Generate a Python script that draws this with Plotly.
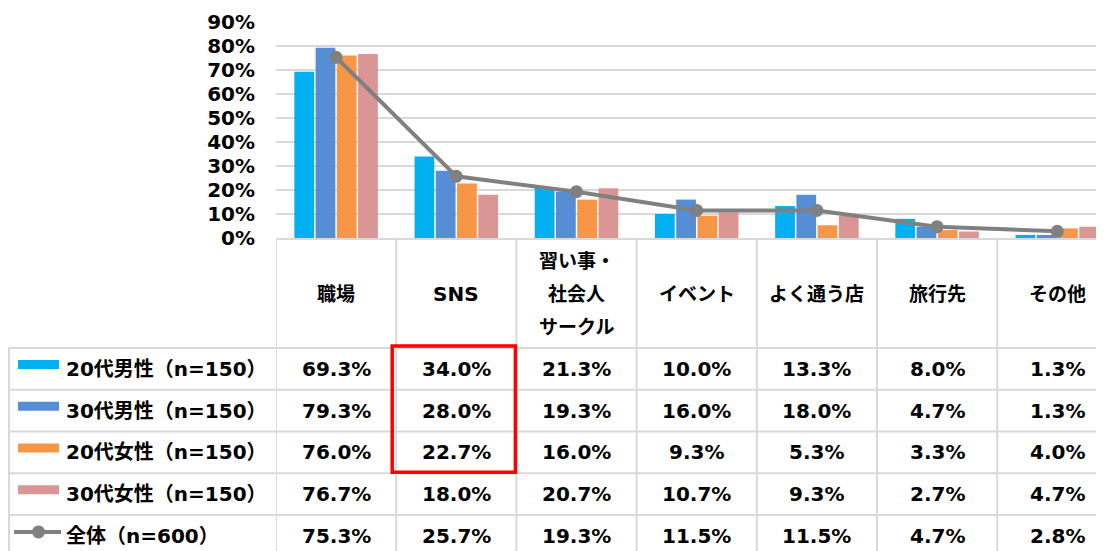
import plotly.graph_objects as go

# ---------------- data ----------------
categories = ["職場", "SNS", "習い事・<br>社会人<br>サークル", "イベント", "よく通う店", "旅行先", "その他"]
bar_series = ["20代男性（n=150）", "30代男性（n=150）", "20代女性（n=150）", "30代女性（n=150）"]
male20 = [69.3, 34.0, 21.3, 10.0, 13.3, 8.0, 1.3]
male30 = [79.3, 28.0, 19.3, 16.0, 18.0, 4.7, 1.3]
female20 = [76.0, 22.7, 16.0, 9.3, 5.3, 3.3, 4.0]
female30 = [76.7, 18.0, 20.7, 10.7, 9.3, 2.7, 4.7]
total_name = "全体（n=600）"
total = [75.3, 25.7, 19.3, 11.5, 11.5, 4.7, 2.8]
tick_vals = [0, 10, 20, 30, 40, 50, 60, 70, 80, 90]
tick_text = ["0%", "10%", "20%", "30%", "40%", "50%", "60%", "70%", "80%", "90%"]

bar_values = [male20, male30, female20, female30]
bar_colors = ["#00b0f0", "#558ed5", "#f79646", "#d99694"]
line_color = "#808080"
grid_color = "#d9d9d9"

# ---------------- layout constants (screen pixels of the reference) ----------------
W, H = 1104, 551
OFF = 8                      # page body margin: paper px = screen px - OFF


def px(sx):                  # screen x -> paper fraction
    return (sx - OFF) / W


def py(sy):                  # screen y -> paper fraction
    return 1 - (sy - OFF) / H


plot_left = 276
col_w = 120.2
y0px, y90px = 238, 22
header_bottom = 348
row_h = 41.75
FONT = "DejaVu Sans, Noto Sans CJK JP, sans-serif"
FS = 20
FS_HEAD_CJK = 19

x_range = [-0.5, -0.5 + (W + OFF - plot_left) / col_w]
table_top = py(y0px)
y2_top = (header_bottom - y0px) / row_h
y2_bot = -(H + OFF - header_bottom) / row_h

fig = go.Figure()
xs = list(range(len(categories)))
for name, vals, col in zip(bar_series, bar_values, bar_colors):
    fig.add_trace(go.Bar(x=xs, y=vals, name=name, marker=dict(color=col, line=dict(width=0))))
fig.add_trace(go.Scatter(x=xs, y=total, name=total_name, mode="lines+markers",
                         line=dict(color=line_color, width=4),
                         marker=dict(color=line_color, size=13), cliponaxis=False))

shapes = []
annotations = []
# vertical table lines for category columns
for k in range(len(categories)):
    shapes.append(dict(type="line", xref="x", yref="paper", x0=k - 0.5, x1=k - 0.5,
                       y0=0, y1=table_top, line=dict(color=grid_color, width=2)))
# left label column border
shapes.append(dict(type="line", xref="paper", yref="y2", x0=px(9), x1=px(9),
                   y0=0, y1=y2_bot, line=dict(color=grid_color, width=2)))
# horizontal row lines
all_rows = bar_series + [total_name]
for i in range(len(all_rows)):
    shapes.append(dict(type="line", xref="paper", yref="y2", x0=px(9), x1=1,
                       y0=-i, y1=-i, line=dict(color=grid_color, width=2)))

# header labels
for j, cat in enumerate(categories):
    lines = cat.split("<br>")
    n = len(lines)
    for li, t in enumerate(lines):
        size = FS if t.isascii() else FS_HEAD_CJK
        annotations.append(dict(x=j, y=y2_top / 2, xref="x", yref="y2", text=t, showarrow=False,
                                yshift=((n - 1) / 2 - li) * 33 - 1,
                                font=dict(family=FONT, size=size, color="black", weight="bold")))

# row labels + values
all_vals = bar_values + [total]
for i, (name, vals) in enumerate(zip(all_rows, all_vals)):
    yc = -i - 0.5
    annotations.append(dict(x=px(64), y=yc, xref="paper", yref="y2", text=name, showarrow=False,
                            xanchor="left", font=dict(family=FONT, size=FS, color="black", weight="bold")))
    for j, v in enumerate(vals):
        annotations.append(dict(x=j, y=yc, xref="x", yref="y2", text=f"{v:.1f}%", showarrow=False,
                                font=dict(family=FONT, size=FS, color="black", weight="bold")))
    if i < len(bar_series):
        shapes.append(dict(type="rect", xref="paper", yref="y2", x0=px(18), x1=px(59),
                           ysizemode="pixel", yanchor=yc, y0=0, y1=9,
                           fillcolor=bar_colors[i], line=dict(width=0)))
    else:
        shapes.append(dict(type="line", xref="paper", yref="y2", x0=px(14), x1=px(61),
                           ysizemode="pixel", yanchor=yc, y0=4, y1=4,
                           line=dict(color=line_color, width=4)))
        shapes.append(dict(type="circle", xref="paper", yref="y2", xsizemode="pixel", ysizemode="pixel",
                           xanchor=px(38.5), yanchor=yc, x0=-6.5, x1=6.5, y0=-2.5, y1=10.5,
                           fillcolor=line_color, line=dict(width=0)))

# red highlight box around SNS values of first three rows
shapes.append(dict(type="rect", xref="x", yref="y2",
                   x0=0.5 - 4 / col_w, x1=1.5 - 1 / col_w, y0=-3 + 1 / row_h, y1=2 / row_h,
                   line=dict(color="#ff0000", width=3.5)))

fig.update_layout(
    width=W, height=H,
    margin=dict(l=0, r=0, t=0, b=0, autoexpand=False),
    paper_bgcolor="white", plot_bgcolor="white",
    barmode="group", bargap=0.293, bargroupgap=0.07,
    showlegend=False,
    font=dict(family=FONT, size=FS, color="black"),
    xaxis=dict(domain=[px(plot_left), 1], range=x_range, showticklabels=False, showgrid=False,
               zeroline=False, showline=True, linecolor=grid_color, linewidth=2, ticks="",
               automargin=False, fixedrange=True),
    yaxis=dict(domain=[table_top, py(y90px)], range=[0, 90], tickvals=tick_vals,
               ticktext=tick_text, showgrid=True, gridcolor=grid_color, gridwidth=2,
               zeroline=False, showline=False, ticks="", ticklabelstandoff=20, automargin=False,
               tickfont=dict(family=FONT, size=FS, color="black", weight="bold")),
    yaxis2=dict(domain=[0, table_top], range=[y2_bot, y2_top], anchor="x",
                visible=False, showgrid=False, zeroline=False, automargin=False),
    shapes=shapes,
    annotations=annotations,
)

fig.write_html("out.html")
